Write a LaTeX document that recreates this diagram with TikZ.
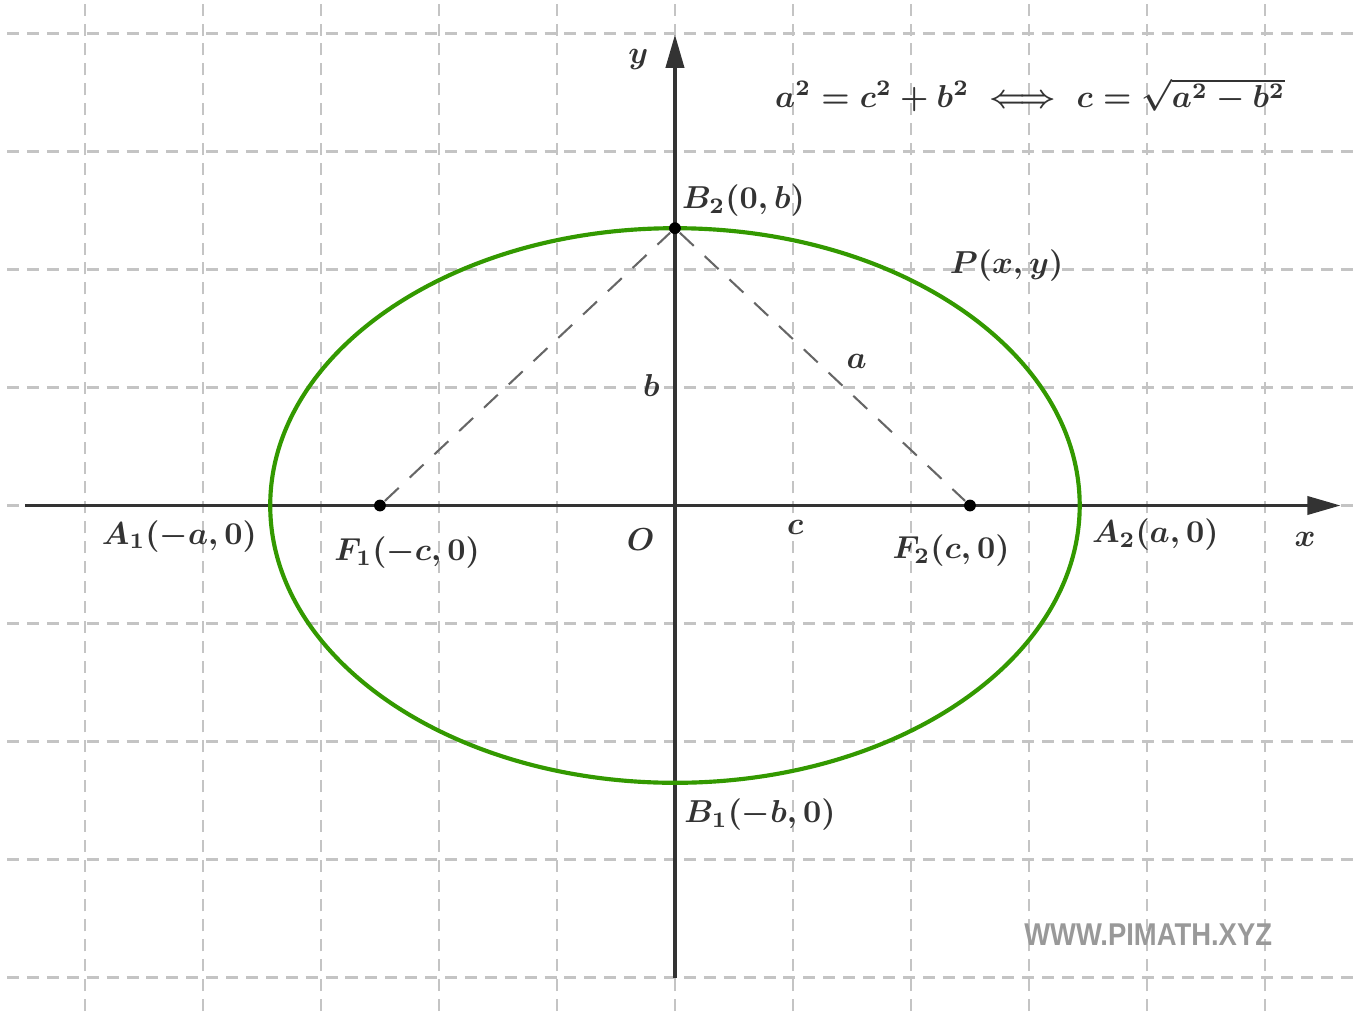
\documentclass[tikz,border=0pt]{standalone}
\usepackage{amsmath}
\usepackage{graphicx}
\usepackage{fontspec}
\newfontfamily\markfont{Liberation Sans}
\usepackage{tikz}
\usetikzlibrary{positioning}
\usetikzlibrary{arrows.meta}
\definecolor{axisgray}{HTML}{333333}
\definecolor{gridgray}{HTML}{C4C4C4}
\definecolor{chordgray}{HTML}{666666}
\definecolor{curvegreen}{HTML}{339900}
\definecolor{markgray}{HTML}{999999}

\begin{document}
\begin{tikzpicture}[
gridline/.style={gridgray, line width=0.5pt, dash pattern=on 2.9pt off 1.9pt},
axisline/.style={axisgray, line width=0.75pt, -{Triangle[length=8pt, width=4.4pt]}},
curveline/.style={curvegreen, line width=1pt},
chordline/.style={chordgray, line width=0.5pt, dash pattern=on 4.6pt off 3.6pt},
pointnode/.style={circle, fill=black, inner sep=0pt, minimum size=0.1cm},
labelnode/.style={text=axisgray, inner sep=1pt, scale=0.765, transform shape, font=\boldmath},
]
\useasboundingbox (-5.72,-4.284) rectangle (5.78,4.284);

%Grid
\foreach \gx in {-5,...,5}
  \draw[gridline] (\gx,-4.284) -- (\gx,4.284);
\foreach \gy in {-4,...,4}
  \draw[gridline] (-5.66,\gy) -- (5.78,\gy);

%Coordinates
\coordinate (xstart) at (-5.51,0);
\coordinate (xend)   at (5.64,0);
\coordinate (ystart) at (0,-4);
\coordinate (yend)   at (0,3.99);

%Axes
\draw[axisline] (xstart) -- (xend);
\draw[axisline] (ystart) -- (yend);

%Ellipse
\draw[curveline] (0,0) ellipse [x radius=3.43, y radius=2.35];

%Nodes
\node[pointnode]  (f1)  at (-2.5,0)   {};
\node[pointnode]  (f2)  at (2.5,0)    {};
\node[pointnode]  (b2)  at (0,2.35)   {};

\node[labelnode]  (ylab)   at (-0.31,3.78)  {$y$};
\node[labelnode]  (xlab)   at (5.34,-0.29)  {$x$};
\node[labelnode]  (olab)   at (-0.29,-0.29) {$O$};
\node[labelnode]  (clab)   at (1.02,-0.19)  {$c$};
\node[labelnode]  (blab)   at (-0.20,1.02)  {$b$};
\node[labelnode]  (alab)   at (1.54,1.22)   {$a$};
\node[labelnode]  (plab)   at (2.81,2.03)   {$P(x,y)$};
\node[labelnode]  (b2lab)  at (0.58,2.58)   {$B_2(0,b)$};
\node[labelnode]  (b1lab)  at (0.72,-2.62)  {$B_1(-b,0)$};
\node[labelnode]  (a1lab)  at (-4.20,-0.26) {$A_1(-a,0)$};
\node[labelnode]  (f1lab)  at (-2.27,-0.40) {$F_1(-c,0)$};
\node[labelnode]  (f2lab)  at (2.34,-0.38)  {$F_2(c,0)$};
\node[labelnode]  (a2lab)  at (4.07,-0.25)  {$A_2(a,0)$};
\node[labelnode]  (eqn)    at (3.01,3.48)   {$a^2=c^2+b^2 \iff c=\sqrt{a^2-b^2}$};
\node[text=markgray, font=\markfont\bfseries\fontsize{7.6}{9}\selectfont]
                  (site)   at (4.01,-3.64)  {\scalebox{0.87}[1]{WWW.PIMATH.XYZ}};

%Lines
\draw[chordline] (f1) -- (b2);
\draw[chordline] (b2) -- (f2);
\end{tikzpicture}
\end{document}
